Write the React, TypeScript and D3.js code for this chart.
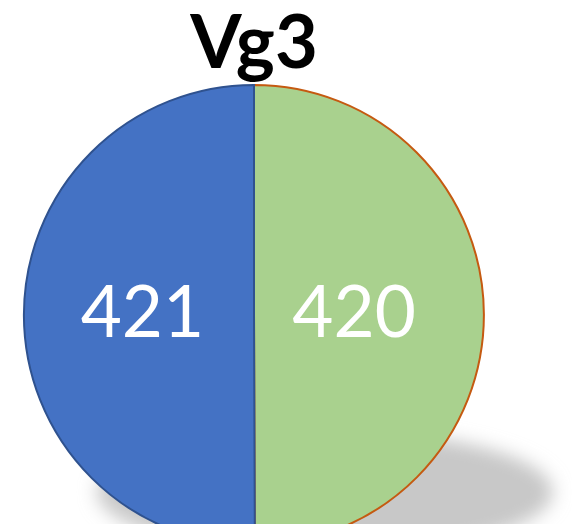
import React from 'react';
import * as d3 from 'd3';

const title = 'Vg3';
const categories = ['B', 'A'];
const values = [420, 421];
const fills = ['#A9D18E', '#4472C4'];
const strokes = ['#C55A11', '#2F528F'];
const labelRadius = [0.87, 0.97];

export default function App() {
  const width = 572,
    height = 524;
  const cx = 254,
    cy = 315,
    r = 230;

  const pie = d3.pie<number>().sort(null);
  const arcs = pie(values);
  const arc = d3.arc<d3.PieArcDatum<number>>().innerRadius(0).outerRadius(r);

  return (
    <svg
      width={width}
      height={height}
      style={{ position: 'fixed', left: 0, top: 0, background: '#fff' }}
    >
      <defs>
        <filter id="shadowBlur" x="-20%" y="-50%" width="140%" height="200%">
          <feGaussianBlur stdDeviation="9" />
        </filter>
      </defs>
      <ellipse
        cx={325}
        cy={492}
        rx={228}
        ry={62}
        fill="#c8c8c8"
        filter="url(#shadowBlur)"
      />
      <g transform={`translate(${cx}, ${cy})`}>
        {arcs.map((d, i) => (
          <path
            key={categories[i]}
            d={arc(d) || ''}
            fill={fills[i]}
            stroke={strokes[i]}
            strokeWidth={2}
          />
        ))}
        {arcs.map((d, i) => {
          const [x, y] = d3
            .arc<d3.PieArcDatum<number>>()
            .innerRadius(0)
            .outerRadius(r * labelRadius[i])
            .centroid(d);
          return (
            <text
              key={'l' + categories[i]}
              x={x}
              y={y + 22}
              textAnchor="middle"
              fill="#fff"
              fontFamily="Lato, 'Open Sans', sans-serif"
              fontSize={71}
            >
              {d.data}
            </text>
          );
        })}
      </g>
      <text
        x={cx}
        y={68}
        textAnchor="middle"
        fontFamily="Lato, 'Open Sans', sans-serif"
        fontWeight="bold"
        fontSize={74}
        fill="#000"
      >
        {title}
      </text>
    </svg>
  );
}
